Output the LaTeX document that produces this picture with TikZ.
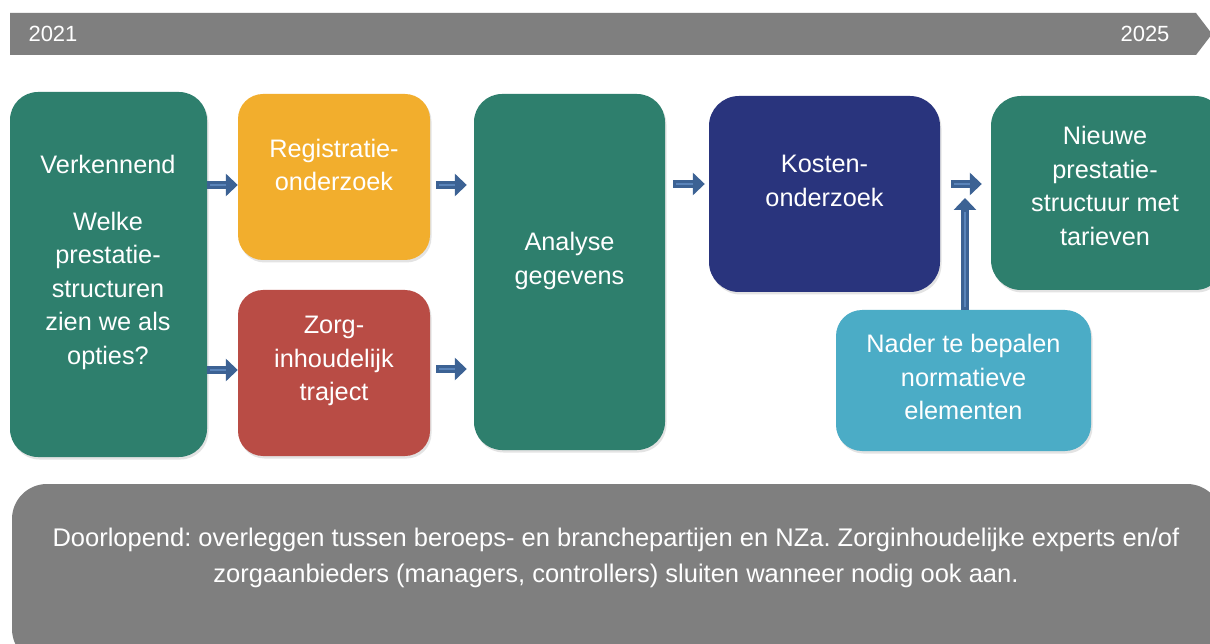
\documentclass[tikz,border=0pt]{standalone}
\usepackage{fontspec}
\setmainfont{Liberation Sans}
\frenchspacing
\usetikzlibrary{arrows.meta,shadows}
\definecolor{bgreen}{HTML}{2E7F6D}
\definecolor{borange}{HTML}{F2AE2D}
\definecolor{bred}{HTML}{B94C45}
\definecolor{bnavy}{HTML}{29347D}
\definecolor{bblue}{HTML}{4BACC6}
\definecolor{bgray}{HTML}{7F7F7F}
\definecolor{arrowblue}{HTML}{3C6294}
\definecolor{arrowhl}{HTML}{5A84BA}
\tikzset{
  box/.style={draw=none, rounded corners=28pt, inner sep=0pt,
    drop shadow={opacity=0.22, shadow xshift=1.5pt, shadow yshift=-2.5pt}},
  lbl/.style={text=white, align=center, inner sep=0pt,
    font=\fontsize{25.3}{33.5}\selectfont},
  flow/.style={draw=arrowblue, line width=8pt,
    -{Triangle[width=22pt,length=12pt]}},
  flowhl/.style={draw=arrowhl, line width=1.8pt},
}
\begin{document}
\begin{tikzpicture}[x=1pt,y=-1pt]
\useasboundingbox (0,0) rectangle (1210,644);
\fill[white] (0,0) rectangle (1210,644);
% banner
\fill[bgray] (10,13) -- (1196,13) -- (1212,34) -- (1196,55) -- (10,55) -- cycle;
\node[text=white, font=\fontsize{22}{26}\selectfont, inner sep=0pt] (y1) at (53,34) {2021};
\node[text=white, font=\fontsize{22}{26}\selectfont, inner sep=0pt] (y2) at (1145,34) {2025};
% boxes
\node[box, fill=bgreen, minimum width=197pt, minimum height=365pt] (v) at (108.5,274.5) {};
\node[box, fill=borange, rounded corners=25pt, minimum width=192pt, minimum height=166pt] (r) at (334,177) {};
\node[box, fill=bred, rounded corners=25pt, minimum width=192pt, minimum height=166pt] (z) at (334,373) {};
\node[box, fill=bgreen, minimum width=191pt, minimum height=356pt] (a) at (569.5,272) {};
\node[box, fill=bnavy, rounded corners=30pt, minimum width=231pt, minimum height=196pt] (k) at (824.5,194) {};
\node[box, fill=bgreen, rounded corners=30pt, minimum width=234pt, minimum height=194pt] (n) at (1108,193) {};
\node[box, fill=bblue, rounded corners=26pt, minimum width=255pt, minimum height=141pt] (na) at (963.5,380.5) {};
\node[box, fill=bgray, rounded corners=35pt, minimum width=1210pt, minimum height=180pt] (b) at (617,574) {};
% labels
\node[lbl] (vt) at (108,262) {Verkennend\\[23.5pt]Welke\\prestatie-\\structuren\\zien we als\\opties?};
\node[lbl] (rt) at (334,165) {Registratie-\\onderzoek};
\node[lbl] (zt) at (334,361) {Zorg-\\inhoudelijk\\traject};
\node[lbl] (at) at (569.5,261) {Analyse\\gegevens};
\node[lbl] (kt) at (824.5,181) {Kosten-\\onderzoek};
\node[lbl] (nt) at (1105,186) {Nieuwe\\prestatie-\\structuur met\\tarieven};
\node[lbl] (nat) at (963.5,377) {Nader te bepalen\\normatieve\\elementen};
\node[lbl, font=\fontsize{25.5}{36}\selectfont] (bt) at (616,557.5) {Doorlopend: overleggen tussen beroeps- en branchepartijen en NZa. Zorginhoudelijke experts en/of\\zorgaanbieders (managers, controllers) sluiten wanneer nodig ook aan.};
% arrows
\draw[flow] (v.east |- 0,185) -- (r.west |- 0,185);
\draw[flow] (v.east |- 0,370) -- (z.west |- 0,370);
\draw[flow, shorten <=6pt, shorten >=7pt] (r.east |- 0,185) -- (a.west |- 0,185);
\draw[flow, shorten <=6pt, shorten >=7pt] (z.east |- 0,369) -- (a.west |- 0,369);
\draw[flow, shorten <=8pt, shorten >=4pt] (a.east |- 0,184) -- (k.west |- 0,184);
\draw[flow, shorten <=11pt, shorten >=9pt] (k.east |- 0,184) -- (n.west |- 0,184);
\coordinate (j) at (965,198);
\draw[flow] (na.north -| j) -- (j);
% highlights
\draw[flowhl] (210,185) -- (226,185);
\draw[flowhl] (210,370) -- (226,370);
\draw[flowhl] (439,185) -- (455,185);
\draw[flowhl] (439,369) -- (455,369);
\draw[flowhl] (676,184) -- (693,184);
\draw[flowhl] (954,184) -- (970,184);
\draw[flowhl] (965,307) -- (965,212);
\end{tikzpicture}
\end{document}
